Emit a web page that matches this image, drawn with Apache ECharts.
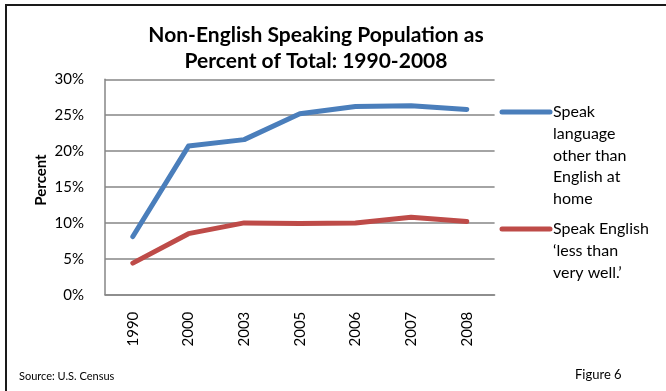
<!DOCTYPE html>
<html>
<head>
<meta charset="utf-8">
<script src="https://cdn.jsdelivr.net/npm/echarts@6/dist/echarts.min.js"></script>
<style>
html,body{margin:0;padding:0;background:#fff;}
#chart{width:666px;height:391px;}
</style>
</head>
<body>
<div id="chart"></div>
<script>
var years = ['1990','2000','2003','2005','2006','2007','2008'];
var otherLang = [8.1, 20.7, 21.6, 25.2, 26.2, 26.3, 25.8];
var lessWell = [4.4, 8.5, 10.0, 9.9, 10.0, 10.8, 10.2];
var seriesNames = ['Speak language other than English at home', "Speak English \u2018less than very well.\u2019"];
var legendLines1 = ['Speak', 'language', 'other than', 'English at', 'home'];
var legendLines2 = ['Speak English', '\u2018less than', 'very well.\u2019'];

var FONT = 'Lato, "Open Sans", sans-serif';
var chart = echarts.init(document.getElementById('chart'));

function textBlock(lines, x, y) {
  return lines.map(function (t, i) {
    return {
      type: 'text', x: x, y: y + i * 21.7,
      style: { text: t, font: '16px ' + FONT, fill: '#000', verticalAlign: 'middle' }
    };
  });
}

var graphics = [
  { type: 'rect', shape: { x: 6, y: 5, width: 700, height: 420 },
    style: { fill: 'none', stroke: '#1a1a1a', lineWidth: 2 }, silent: true },
  { type: 'line', shape: { x1: 502, y1: 112, x2: 550, y2: 112 },
    style: { stroke: '#4A7EBB', lineWidth: 5, lineCap: 'round' } },
  { type: 'line', shape: { x1: 502, y1: 229, x2: 550, y2: 229 },
    style: { stroke: '#BE4B48', lineWidth: 5, lineCap: 'round' } },
  { type: 'text', x: 19, y: 376,
    style: { text: 'Source: U.S. Census', font: '11px ' + FONT, fill: '#000', verticalAlign: 'middle' } },
  { type: 'text', x: 575, y: 375,
    style: { text: 'Figure 6', font: '13px ' + FONT, fill: '#000', verticalAlign: 'middle' } },
  { type: 'text', x: 41, y: 180, rotation: Math.PI / 2,
    style: { text: 'Percent', font: 'bold 15px ' + FONT, fill: '#000', align: 'center', verticalAlign: 'middle' } }
];
graphics = graphics.concat(textBlock(legendLines1, 553, 112)).concat(textBlock(legendLines2, 553, 229));

chart.setOption({
  animation: false,
  backgroundColor: '#fff',
  title: {
    text: 'Non-English Speaking Population as\nPercent of Total: 1990-2008',
    left: 311, top: 17, textAlign: 'center',
    textStyle: { fontFamily: FONT, fontSize: 21, fontWeight: 'bold', color: '#000', lineHeight: 26 }
  },
  grid: { left: 105, right: 171.4, top: 79.3, bottom: 96.3, containLabel: false },
  xAxis: {
    type: 'category', data: years, boundaryGap: true,
    axisLine: { lineStyle: { color: '#868686', width: 1.5 } },
    axisTick: { show: false },
    axisLabel: { rotate: 90, margin: 17, color: '#000', fontFamily: FONT, fontSize: 15 },
    splitLine: { show: false }
  },
  yAxis: {
    type: 'value', min: 0, max: 30, interval: 5,
    axisLine: { show: true, lineStyle: { color: '#868686', width: 1.5 } },
    axisTick: { show: false },
    axisLabel: { formatter: '{value}%', margin: 21, color: '#000', fontFamily: FONT, fontSize: 15 },
    splitLine: { lineStyle: { color: '#868686', width: 1.5 } }
  },
  series: [
    { name: seriesNames[0], type: 'line', data: otherLang, symbol: 'none',
      lineStyle: { color: '#4A7EBB', width: 5, cap: 'round', join: 'round' } },
    { name: seriesNames[1], type: 'line', data: lessWell, symbol: 'none',
      lineStyle: { color: '#BE4B48', width: 5, cap: 'round', join: 'round' } }
  ],
  graphic: graphics
});
</script>
</body>
</html>
